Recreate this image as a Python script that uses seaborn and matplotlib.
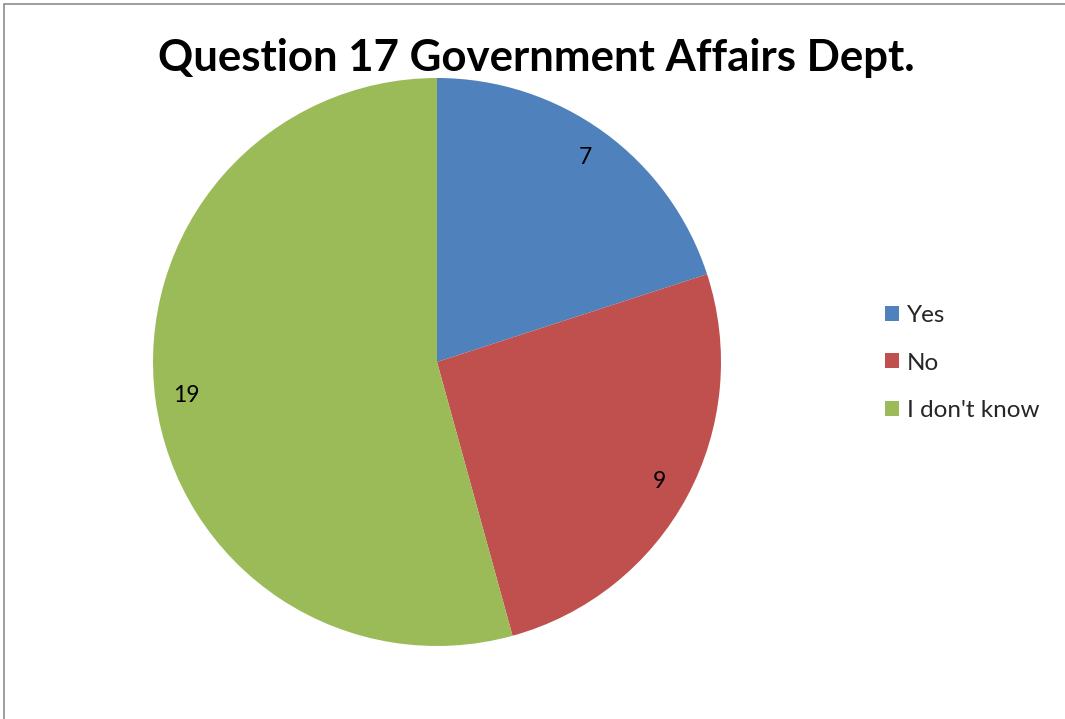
import matplotlib
matplotlib.use("Agg")
import matplotlib.pyplot as plt
import seaborn as sns
from matplotlib.patches import Rectangle

sns.set_theme(style="white")
plt.rcParams["font.family"] = ["Lato", "DejaVu Sans"]

# Survey responses
categories = ["Yes", "No", "I don't know"]
counts = [7, 9, 19]
colors = ["#4F81BD", "#C0504D", "#9BBB59"]
title = "Question 17 Government Affairs Dept."

fig = plt.figure(figsize=(10.65, 7.19), dpi=100)
fig.patch.set_facecolor("white")

# Thin grey frame around the chart area (left and top edges visible)
fig.add_artist(Rectangle((3.5 / 1065, -0.01), 1.1, 1 - 4 / 719 + 0.01,
                         transform=fig.transFigure, fill=False,
                         edgecolor="#8c8c8c", linewidth=1.2))

ax = fig.add_axes([153 / 1065, (719 - 646) / 719, 568 / 1065, 568 / 719])
wedges, texts = ax.pie(
    counts,
    labels=[str(c) for c in counts],
    colors=colors,
    startangle=90,
    counterclock=False,
    labeldistance=0.89,
    radius=1.0,
    wedgeprops=dict(linewidth=0),
    textprops=dict(fontsize=16.5, color="black"),
)
for t in texts:
    t.set_horizontalalignment("center")
    t.set_verticalalignment("center")
ax.set_xlim(-1, 1)
ax.set_ylim(-1, 1)
ax.set_aspect("equal")
ax.axis("off")

fig.text(536 / 1065, 1 - 58 / 719, title, ha="center", va="center",
         fontsize=31.5, fontweight="bold", color="black")

leg = fig.legend(
    wedges, categories,
    loc="center left",
    bbox_to_anchor=(863 / 1065, 1 - 363 / 719),
    frameon=False,
    fontsize=17.5,
    handlelength=0.58,
    handleheight=0.58,
    handletextpad=0.33,
    labelspacing=1.08,
)

fig.savefig("out.png", dpi=100, facecolor="white")
